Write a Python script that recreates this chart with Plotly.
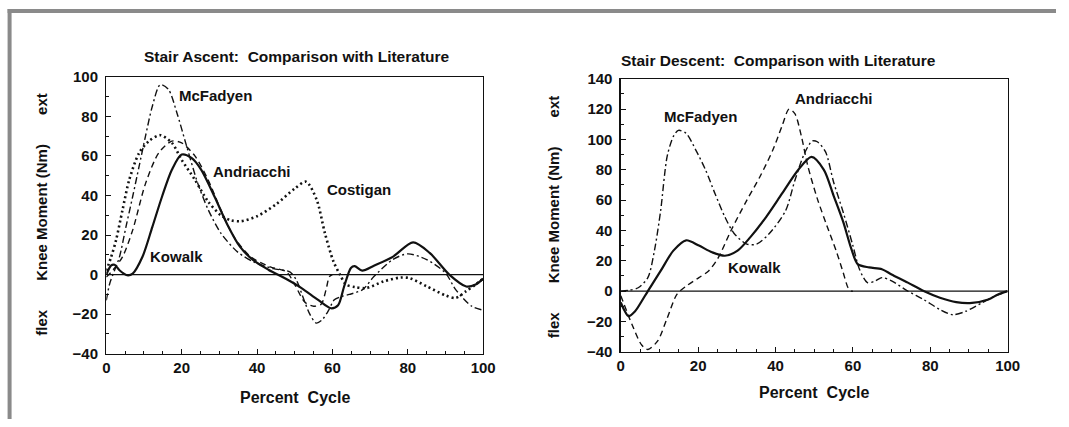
import plotly.graph_objects as go

# ---------------- data ----------------
# Stair ascent
asc_kowalk_x = [0, 1.3, 2.2, 3.5, 5.5, 7, 9.6, 12.2, 14.8, 17.4, 20, 22.6, 25.2, 28.7, 32.2, 35.5, 39, 43, 48, 51.8,
                56, 59.6, 61.5, 63.1, 64.9, 65.9, 67.9, 71, 76, 81.4, 85.8, 91, 95.5, 98, 100]
asc_kowalk_y = [0, 4.7, 5, 2.2, -0.3, 0.5, 9, 24, 39.5, 53, 60.7, 59, 53, 39.5, 25, 14, 7.3, 2.5, -2.5, -6.8,
                -12.5, -17, -15.5, -6, 3.4, 4.3, 2, 4.5, 9, 16.3, 11, 0, -6, -5, -2]

asc_mcfadyen_x = [0, 0.9, 2.2, 3.5, 5.2, 7, 8.7, 10.4, 12.2, 14.3, 16.5, 18.7, 21.3, 24.3, 27, 30.4, 34.8, 39.1,
                  44.3, 48.7, 50.5, 52.3, 54, 55.7, 57.2, 59, 60.5, 62.5, 64.5, 68, 71, 76, 80, 85, 90, 92.7, 97, 100]
asc_mcfadyen_y = [-13, -4.6, 2.2, 9, 24, 39.5, 54.7, 70, 85, 96, 93.6, 82, 65, 46, 33, 21, 11.5, 6.4,
                  3, 1.4, -3, -12, -20, -24.5, -23, -18, -12.7, -11, -10, -7.6, -1, 7.6, 10.5, 7.6, 0.8, -7.6, -16, -18]

asc_andriacchi_x = [0, 1.7, 4.3, 7, 10.4, 13.9, 17.4, 20, 23.5, 27, 30.4, 33.9, 38.3, 43.5, 47.8, 50, 52.7, 55,
                    57, 58.3, 59.2, 60]
asc_andriacchi_y = [-1.2, 2.2, 9, 22.5, 46, 61.5, 67.5, 66.6, 60, 48, 32.7, 19, 9, 3.9, 1.4, -5, -14, -16,
                    -15, -7.6, -1, 0]

asc_costigan_x = [0, 1.3, 2.6, 4.3, 6.1, 8.7, 11.3, 14.3, 17.4, 20, 23.5, 27, 30.4, 33, 35.7, 40, 45, 50, 53,
                  55.8, 58, 60.2, 62, 63.6, 66, 69, 73.6, 78, 80.5, 85, 90, 92.7, 95.4, 98, 100]
asc_costigan_y = [2, 9, 17.5, 32.7, 48, 61.5, 67.5, 70.5, 66.6, 58, 48, 37, 30, 27.5, 27, 29.5, 35.5, 43.5, 47,
                  38, 21, 7, 0, -5, -6.3, -6.8, -3.4, -1.5, -1.8, -5.9, -10.5, -11.8, -8.5, -5, -2]

# Stair descent
desc_kowalk_x = [0, 1, 2, 3.7, 5.4, 7, 10.3, 13.6, 16.9, 20.2, 23.6, 26.9, 30.2, 33.5, 37.6, 41.7, 45.9, 49.3,
                 52.5, 55, 57.5, 59.6, 61.25, 64.2, 67.5, 70, 74.2, 78.3, 82.5, 86.7, 90.8, 95, 97.5, 100]
desc_kowalk_y = [-7.5, -13, -16.5, -13.3, -6.7, 0, 13.3, 26.7, 33.5, 30, 25.6, 23.3, 26.7, 35.6, 49, 64.4, 80, 88.5,
                 80, 63, 45.6, 27.8, 17.8, 15.6, 14.4, 11, 5.6, 0, -4.4, -7.3, -7.8, -5.6, -2.2, 0]

desc_mcfadyen_x = [0, 2, 4.5, 7, 8.7, 10.3, 12, 13.6, 14.9, 16.9, 19.4, 21.9, 24.4, 26.9, 29.3, 32.6, 35.1, 38.4,
                   42.6, 45, 47.5, 49.5, 50.8, 52.9, 55, 57.5, 60, 61.7, 63.75, 65.8, 67.5, 70, 74.2, 78.3, 82.5,
                   85.8, 89.2, 93.3, 96.7, 100]
desc_mcfadyen_y = [0, 0.5, 2.2, 8.9, 26.7, 53, 89, 102, 106, 104, 93, 80, 64, 49, 38, 31, 31, 38,
                   53, 73, 91, 99, 98.5, 92, 72, 52, 30, 14.4, 5.6, 6.7, 8.9, 6.7, 0, -5.6, -12.2,
                   -15.6, -13.3, -7.8, -3.3, 0]

desc_andriacchi_x = [0, 2.9, 5.4, 7, 9.5, 12, 14.5, 16.9, 20.2, 22.7, 25.2, 28.5, 32.6, 36, 39.3, 41.7, 43.5, 45,
                     46.7, 48.3, 50.8, 53.3, 55.8, 57.5, 58.75, 59.6, 60]
desc_andriacchi_y = [-3, -22, -35.6, -38.5, -33, -17.8, -2.2, 3.3, 8.9, 13.3, 22, 40, 60, 75.6, 93, 109, 120, 117,
                     102, 83, 61, 43, 25.6, 12.2, 2.2, 0, 0]

x_ticks = [0, 20, 40, 60, 80, 100]
asc_y_ticks = [-40, -20, 0, 20, 40, 60, 80, 100]
desc_y_ticks = [-40, -20, 0, 20, 40, 60, 80, 100, 120, 140]

# ---------------- figure ----------------
W, H = 1069, 427
FONT = "Liberation Sans, Arial, Helvetica, sans-serif"
INK = "#111111"

# pixel positions (in the photographed picture) -> paper fractions
SX, OX = 0.987, 3.4
SY, OY = 0.957, 10.4


def px_x(p):
    return ((p - OX) / SX) / W


def px_y(p):
    return 1 - ((p - OY) / SY) / H


fig = go.Figure()

sol = dict(color=INK, width=2.2)
dashdot = dict(color=INK, width=1.4, dash="7px,3px,2px,3px")
dashed = dict(color=INK, width=1.4, dash="6px,4px")
dotted = dict(color=INK, width=2.6, dash="2px,3px")

for xs, ys, ln, xa, ya in [
    (asc_andriacchi_x, asc_andriacchi_y, dashed, "x", "y"),
    (asc_mcfadyen_x, asc_mcfadyen_y, dashdot, "x", "y"),
    (asc_costigan_x, asc_costigan_y, dotted, "x", "y"),
    (asc_kowalk_x, asc_kowalk_y, sol, "x", "y"),
    (desc_andriacchi_x, desc_andriacchi_y, dashed, "x2", "y2"),
    (desc_mcfadyen_x, desc_mcfadyen_y, dashdot, "x2", "y2"),
    (desc_kowalk_x, desc_kowalk_y, sol, "x2", "y2"),
]:
    fig.add_trace(go.Scatter(x=xs, y=ys, mode="lines", line=dict(shape="spline", smoothing=0.8, **ln),
                             xaxis=xa, yaxis=ya, showlegend=False, hoverinfo="skip"))

axis_common = dict(showgrid=False, showline=True, linecolor=INK, linewidth=1.3, mirror=True,
                   ticks="inside", ticklen=5, tickcolor=INK, tickwidth=1,
                   tickfont=dict(family=FONT, size=15, color=INK, weight="bold"), zeroline=False,
                   minor=dict(ticks="inside", ticklen=3, tickcolor=INK))

fig.update_layout(
    width=W, height=H, margin=dict(l=0, r=0, t=0, b=0),
    paper_bgcolor="white", plot_bgcolor="white",
    font=dict(family=FONT, size=15, color=INK),
    xaxis=dict(domain=[px_x(106), px_x(484)], range=[0, 100], tickvals=x_ticks, anchor="y", **axis_common),
    yaxis=dict(domain=[px_y(354), px_y(78)], range=[-40, 100], tickvals=asc_y_ticks, anchor="x",
               ticklabelstandoff=4, **axis_common),
    xaxis2=dict(domain=[px_x(622), px_x(1010)], range=[0, 100], tickvals=x_ticks, anchor="y2", **axis_common),
    yaxis2=dict(domain=[px_y(352), px_y(80)], range=[-40, 140], tickvals=desc_y_ticks, anchor="x2",
                ticklabelstandoff=4, **axis_common),
)

shapes = [
    dict(type="line", xref="x", yref="y", x0=0, x1=100, y0=0, y1=0, line=dict(color=INK, width=1.3)),
    dict(type="line", xref="x2", yref="y2", x0=0, x1=100, y0=0, y1=0, line=dict(color=INK, width=1.3)),
    # outer grey frame
    dict(type="line", xref="paper", yref="paper", x0=px_x(7), x1=1, y0=px_y(12.5), y1=px_y(12.5),
         line=dict(color="#8a8a8a", width=4)),
    dict(type="line", xref="paper", yref="paper", x0=px_x(9), x1=px_x(9), y0=px_y(10.5), y1=0,
         line=dict(color="#8a8a8a", width=4)),
]
fig.update_layout(shapes=shapes)

NB = "\u00a0"
ytitle = "flex" + NB * 7 + "Knee Moment (Nm)" + NB * 7 + "ext"
BOLD = dict(weight="bold")
ann = []
# titles
ann.append(dict(text="Stair Ascent:" + NB + NB + "Comparison with Literature", xref="paper", yref="paper",
                x=px_x(297), y=px_y(58), xanchor="center", yanchor="middle", showarrow=False,
                font=dict(size=15.5, **BOLD)))
ann.append(dict(text="Stair Descent:" + NB + NB + "Comparison with Literature", xref="paper", yref="paper",
                x=px_x(620), y=px_y(62), xanchor="left", yanchor="middle", showarrow=False,
                font=dict(size=15.5, **BOLD)))
# x titles
ann.append(dict(text="Percent" + NB + NB + "Cycle", xref="paper", yref="paper",
                x=px_x(295), y=px_y(398), xanchor="center", yanchor="middle", showarrow=False,
                font=dict(size=16, **BOLD)))
ann.append(dict(text="Percent" + NB + NB + "Cycle", xref="paper", yref="paper",
                x=px_x(816), y=px_y(393), xanchor="center", yanchor="middle", showarrow=False,
                font=dict(size=16, **BOLD)))
# y titles
ann.append(dict(text=ytitle, xref="paper", yref="paper", x=px_x(41), y=px_y(215), textangle=-90,
                xanchor="center", yanchor="middle", showarrow=False, font=dict(size=15, **BOLD)))
ann.append(dict(text=ytitle, xref="paper", yref="paper", x=px_x(554), y=px_y(217), textangle=-90,
                xanchor="center", yanchor="middle", showarrow=False, font=dict(size=15, **BOLD)))
# curve labels
for txt, x, y, xr, yr in [
    ("McFadyen", 18.7, 90.5, "x", "y"),
    ("Andriacchi", 27.7, 52.2, "x", "y"),
    ("Costigan", 57.9, 43.2, "x", "y"),
    ("Kowalk", 11, 9.4, "x", "y"),
    ("McFadyen", 10.7, 114.9, "x2", "y2"),
    ("Andriacchi", 44.4, 127, "x2", "y2"),
    ("Kowalk", 27.3, 15.4, "x2", "y2"),
]:
    ann.append(dict(text=txt, x=x, y=y, xref=xr, yref=yr, xanchor="left", yanchor="middle", showarrow=False,
                    font=dict(size=15, **BOLD)))
fig.update_layout(annotations=ann)

fig.write_html("out.html",
               config={"displayModeBar": False, "staticPlot": True},
               post_script="document.body.style.margin='0';document.body.style.padding='0';"
                           "document.body.style.overflow='hidden';"
                           "document.documentElement.style.overflow='hidden';")
